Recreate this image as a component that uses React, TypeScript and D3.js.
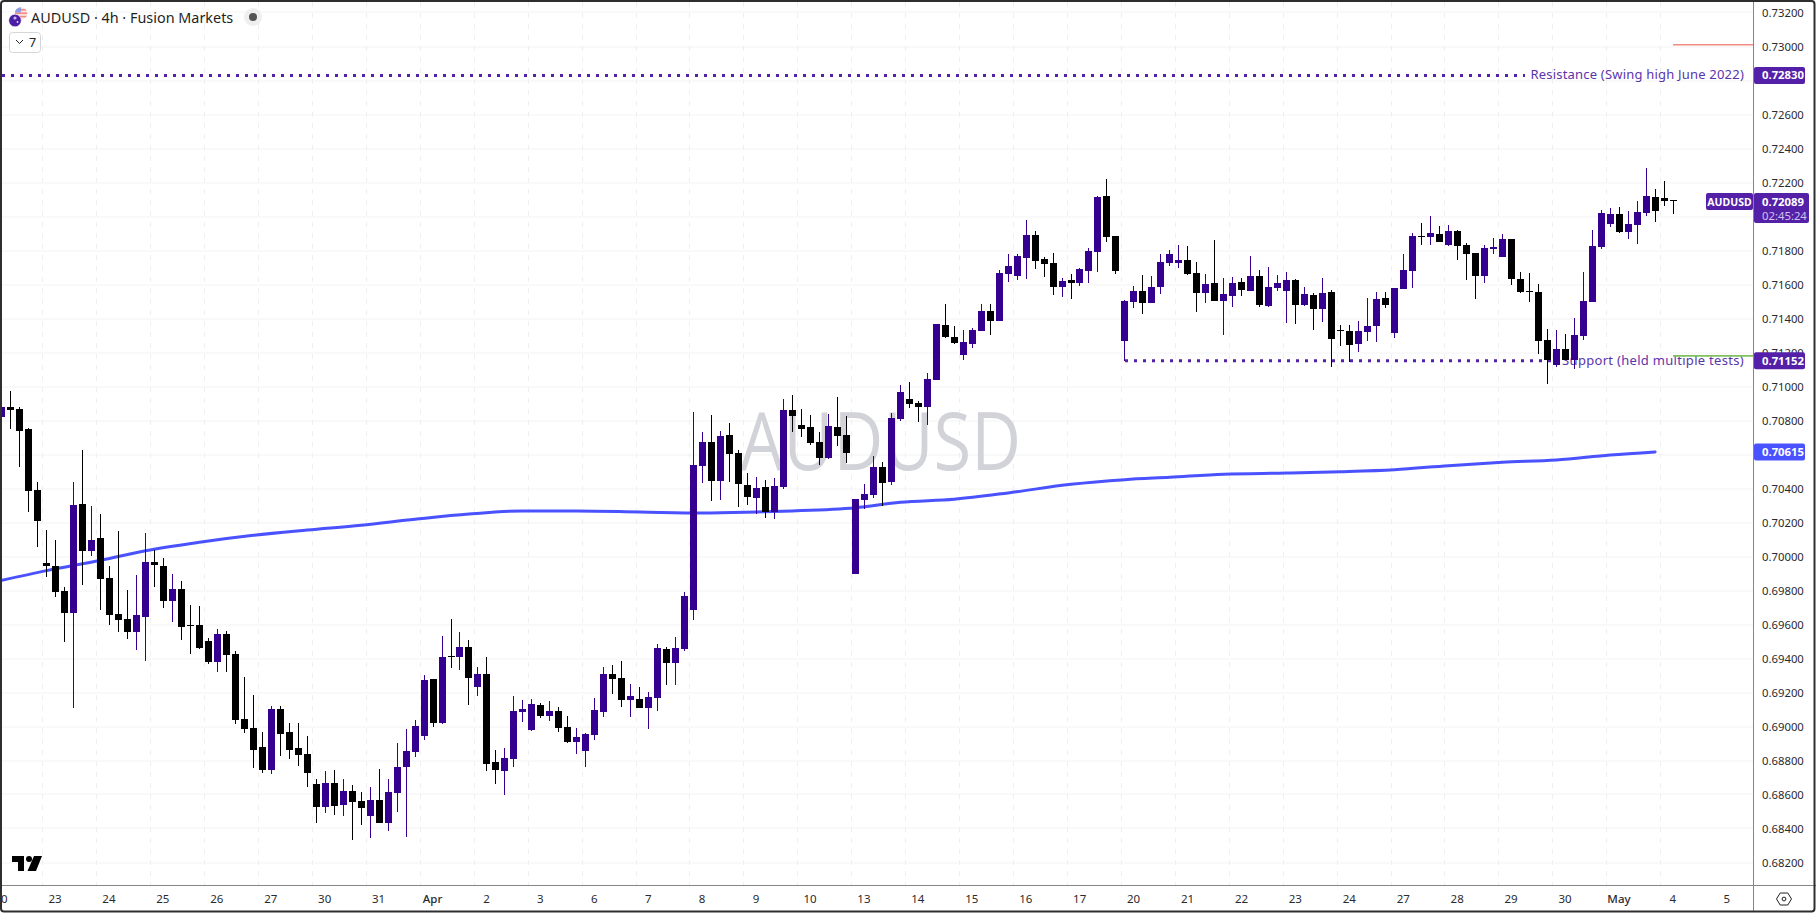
import React from "react";
import * as d3 from "d3";

const OPEN = [0.70820,0.70879,0.70867,0.70750,0.70391,0.69961,0.69944,0.69797,0.69667,0.70309,0.70032,0.70108,0.69873,0.69661,0.69632,0.69556,0.69644,0.69967,0.69944,0.69738,0.69808,0.69600,0.69597,0.69503,0.69379,0.69544,0.69426,0.69044,0.68991,0.68879,0.68744,0.69103,0.68967,0.68873,0.68838,0.68661,0.68526,0.68667,0.68538,0.68620,0.68561,0.68473,0.68567,0.68432,0.68609,0.68762,0.68850,0.68944,0.69279,0.69020,0.69413,0.69409,0.69467,0.69232,0.69309,0.68791,0.68738,0.68809,0.69085,0.68979,0.69126,0.69062,0.69091,0.68997,0.68909,0.68856,0.68950,0.69085,0.69309,0.69285,0.69156,0.69162,0.69109,0.69167,0.69456,0.69373,0.69456,0.69686,0.70532,0.70673,0.70444,0.70714,0.70609,0.70420,0.70344,0.70409,0.70261,0.70409,0.70861,0.70773,0.70761,0.70673,0.70579,0.70761,0.70714,0.69897,0.70332,0.70361,0.70526,0.70438,0.70809,0.70926,0.70903,0.70880,0.71039,0.71362,0.71292,0.71186,0.71250,0.71327,0.71444,0.71386,0.71662,0.71650,0.71756,0.71892,0.71750,0.71727,0.71586,0.71627,0.71609,0.71680,0.71792,0.72121,0.71886,0.71268,0.71497,0.71562,0.71492,0.71586,0.71727,0.71727,0.71745,0.71668,0.71550,0.71609,0.71503,0.71533,0.71615,0.71562,0.71650,0.71473,0.71579,0.71562,0.71626,0.71479,0.71538,0.71456,0.71556,0.71332,0.71326,0.71250,0.71320,0.71356,0.71520,0.71315,0.71573,0.71679,0.71885,0.71879,0.71897,0.71832,0.71915,0.71832,0.71785,0.71650,0.71809,0.71762,0.71868,0.71632,0.71560,0.71556,0.71273,0.71126,0.71220,0.71156,0.71297,0.71497,0.71820,0.71956,0.72015,0.71909,0.71950,0.72021,0.72115,0.72109,0.72097];
const HIGH = [0.70879,0.70973,0.70879,0.70756,0.70438,0.70156,0.70097,0.69820,0.70438,0.70626,0.70297,0.70250,0.69944,0.70150,0.69803,0.69891,0.70138,0.70038,0.69991,0.69897,0.69856,0.69714,0.69708,0.69520,0.69573,0.69561,0.69444,0.69291,0.69185,0.68967,0.69120,0.69120,0.69020,0.69020,0.68944,0.68691,0.68738,0.68744,0.68691,0.68656,0.68614,0.68644,0.68750,0.68691,0.68903,0.68985,0.69038,0.69303,0.69279,0.69532,0.69632,0.69556,0.69509,0.69350,0.69409,0.68862,0.68873,0.69179,0.69156,0.69162,0.69138,0.69150,0.69115,0.69062,0.68991,0.68962,0.69167,0.69350,0.69362,0.69385,0.69250,0.69232,0.69203,0.69485,0.69467,0.69526,0.69791,0.70850,0.70732,0.70832,0.70738,0.70785,0.70626,0.70491,0.70467,0.70450,0.70461,0.70926,0.70950,0.70867,0.70832,0.70732,0.70838,0.70938,0.70826,0.70338,0.70426,0.70591,0.70556,0.70844,0.71009,0.71026,0.70915,0.71080,0.71368,0.71486,0.71356,0.71333,0.71344,0.71486,0.71486,0.71686,0.71780,0.71780,0.71980,0.71915,0.71762,0.71786,0.71639,0.71662,0.71697,0.71815,0.72121,0.72221,0.71886,0.71509,0.71592,0.71656,0.71650,0.71780,0.71803,0.71833,0.71827,0.71733,0.71662,0.71862,0.71639,0.71645,0.71638,0.71768,0.71685,0.71703,0.71656,0.71673,0.71632,0.71585,0.71550,0.71638,0.71568,0.71362,0.71362,0.71385,0.71520,0.71556,0.71556,0.71579,0.71779,0.71903,0.71962,0.72003,0.71944,0.71950,0.71921,0.71844,0.71785,0.71832,0.71873,0.71897,0.71868,0.71673,0.71668,0.71603,0.71338,0.71332,0.71309,0.71403,0.71673,0.71921,0.72038,0.72050,0.72056,0.72032,0.72091,0.72285,0.72162,0.72209,0.72100];
const LOW = [0.70820,0.70750,0.70526,0.70261,0.70056,0.69879,0.69761,0.69497,0.69110,0.69832,0.70003,0.69685,0.69597,0.69556,0.69514,0.69450,0.69385,0.69820,0.69697,0.69614,0.69508,0.69426,0.69455,0.69367,0.69320,0.69320,0.69015,0.68962,0.68756,0.68726,0.68720,0.68826,0.68809,0.68767,0.68644,0.68432,0.68491,0.68479,0.68473,0.68332,0.68420,0.68344,0.68432,0.68385,0.68497,0.68350,0.68820,0.68920,0.68997,0.69014,0.69344,0.69332,0.69126,0.69179,0.68738,0.68661,0.68597,0.68762,0.69026,0.68973,0.69050,0.69032,0.68967,0.68903,0.68838,0.68762,0.68920,0.69056,0.69191,0.69115,0.69056,0.69109,0.68985,0.69091,0.69244,0.69244,0.69444,0.69627,0.70432,0.70326,0.70332,0.70438,0.70291,0.70303,0.70250,0.70226,0.70220,0.70397,0.70732,0.70703,0.70656,0.70538,0.70573,0.70650,0.70550,0.69897,0.70279,0.70344,0.70297,0.70420,0.70800,0.70873,0.70791,0.70773,0.71039,0.71286,0.71250,0.71156,0.71227,0.71327,0.71303,0.71386,0.71615,0.71627,0.71633,0.71692,0.71645,0.71539,0.71527,0.71515,0.71592,0.71609,0.71674,0.71850,0.71662,0.71150,0.71462,0.71427,0.71492,0.71545,0.71709,0.71697,0.71656,0.71439,0.71492,0.71503,0.71303,0.71468,0.71532,0.71562,0.71468,0.71468,0.71562,0.71373,0.71368,0.71473,0.71332,0.71379,0.71115,0.71238,0.71144,0.71203,0.71267,0.71262,0.71462,0.71285,0.71573,0.71579,0.71832,0.71832,0.71850,0.71826,0.71744,0.71626,0.71515,0.71609,0.71779,0.71762,0.71597,0.71550,0.71497,0.71191,0.71015,0.71115,0.71156,0.71103,0.71273,0.71497,0.71809,0.71938,0.71903,0.71868,0.71838,0.72003,0.71968,0.72062,0.72015];
const CLOSE = [0.70879,0.70861,0.70738,0.70385,0.70208,0.69944,0.69791,0.69667,0.70303,0.70032,0.70097,0.69867,0.69656,0.69626,0.69556,0.69656,0.69967,0.69950,0.69738,0.69808,0.69585,0.69595,0.69461,0.69379,0.69544,0.69420,0.69038,0.68985,0.68862,0.68744,0.69103,0.68956,0.68862,0.68832,0.68726,0.68526,0.68667,0.68532,0.68620,0.68556,0.68520,0.68567,0.68432,0.68614,0.68762,0.68856,0.69003,0.69273,0.69020,0.69409,0.69410,0.69467,0.69285,0.69309,0.68779,0.68744,0.68814,0.69091,0.69103,0.69132,0.69062,0.69091,0.68991,0.68909,0.68938,0.68956,0.69097,0.69309,0.69279,0.69156,0.69179,0.69109,0.69173,0.69462,0.69373,0.69462,0.69768,0.70538,0.70673,0.70444,0.70709,0.70603,0.70426,0.70350,0.70403,0.70261,0.70414,0.70861,0.70826,0.70750,0.70667,0.70579,0.70767,0.70708,0.70608,0.70338,0.70367,0.70526,0.70432,0.70814,0.70967,0.70897,0.70879,0.71044,0.71368,0.71292,0.71256,0.71262,0.71333,0.71444,0.71386,0.71668,0.71709,0.71768,0.71892,0.71739,0.71721,0.71586,0.71621,0.71609,0.71692,0.71797,0.72115,0.71880,0.71680,0.71503,0.71562,0.71492,0.71586,0.71733,0.71780,0.71745,0.71662,0.71550,0.71603,0.71503,0.71545,0.71609,0.71568,0.71650,0.71479,0.71585,0.71609,0.71626,0.71479,0.71544,0.71456,0.71550,0.71279,0.71329,0.71244,0.71326,0.71356,0.71515,0.71479,0.71579,0.71685,0.71885,0.71882,0.71903,0.71850,0.71915,0.71826,0.71779,0.71650,0.71815,0.71820,0.71868,0.71632,0.71556,0.71557,0.71267,0.71156,0.71220,0.71156,0.71303,0.71503,0.71826,0.72021,0.72015,0.71909,0.71956,0.72026,0.72121,0.72032,0.72091,0.72089];

const MA_INDEX = [0,5,11,16,22,28,34,40,46,52,58,64,71,78,84,88,95,100,106,112,119,125,130,136,143,149,155,161,167,173,179,184];
const MA_VALUE = [0.69860,0.69917,0.69978,0.70034,0.70084,0.70125,0.70156,0.70184,0.70219,0.70250,0.70268,0.70268,0.70262,0.70256,0.70262,0.70268,0.70287,0.70319,0.70337,0.70374,0.70425,0.70452,0.70466,0.70484,0.70491,0.70499,0.70511,0.70534,0.70554,0.70568,0.70597,0.70615];

const PRICE_TICKS = ["0.73200","0.73000","0.72800","0.72600","0.72400","0.72200","0.72000","0.71800","0.71600","0.71400","0.71200","0.71000","0.70800","0.70600","0.70400","0.70200","0.70000","0.69800","0.69600","0.69400","0.69200","0.69000","0.68800","0.68600","0.68400","0.68200"];
const TICKS_UNDER_TAGS = ["0.72800","0.72000","0.70600"];
const DAY_LABELS = ["20","23","24","25","26","27","30","31","Apr","2","3","6","7","8","9","10","13","14","15","16","17","20","21","22","23","24","27","28","29","30","May","4","5"];
const GRID_DAYS = d3.range(0, 31);

const RESISTANCE = 0.7283;
const SUPPORT = 0.71152;
const LAST = 0.72089;
const MA_LAST = 0.70615;
const RED_LEVEL = 0.7301;
const GREEN_LEVEL = 0.7118;

const W = 1816, H = 914, PANE_R = 1753, PANE_B = 885;
const UP = "#35008f", DOWN = "#000000", TAG = "#5420a8", NOTE = "#5b34ad", MA = "#4a52ff";
const FONT = "'Noto Sans', 'Open Sans', sans-serif";

const x = d3.scaleLinear().domain([0, 186]).range([1.235, 1672.54]);
const y = d3.scaleLinear().domain([0.73, 0.682]).range([46.5, 862.5]);
const dayX = d3.scaleLinear().domain([0, 1]).range([55, 108.93]);
const gridX = d3.scaleLinear().domain([0, 1]).range([42.3, 96.23]);

export default function App() {
  const maLine = d3.line<number>()
    .x((d) => x(MA_INDEX[d]) + 0.5)
    .y((d) => y(MA_VALUE[d]))
    .curve(d3.curveMonotoneX)(MA_INDEX.map((_, i) => i)) as string;

  return (
    <svg width={W} height={H} viewBox={`0 0 ${W} ${H}`} style={{ position: "absolute", left: 0, top: 0, background: "#fff", display: "block" }} fontFamily={FONT}>
      <defs>
        <clipPath id="pane"><rect x={2} y={2} width={PANE_R - 2} height={PANE_B - 2} /></clipPath>
        <clipPath id="flagA"><circle cx={21} cy={13.5} r={6.2} /></clipPath>
      </defs>

      {/* grid */}
      {PRICE_TICKS.map((t) => (
        <line key={t} x1={2} x2={PANE_R} y1={Math.round(y(+t))} y2={Math.round(y(+t))} stroke="#f3f3f4" strokeWidth={1} />
      ))}
      {GRID_DAYS.map((k) => (
        <line key={k} x1={Math.round(gridX(k)) + 0.5} x2={Math.round(gridX(k)) + 0.5} y1={2} y2={PANE_B} stroke="#efeff0" strokeWidth={1} strokeDasharray="5 6" />
      ))}

      {/* watermark */}
      <text x={740} y={470} fontSize={80} fill="#d2d3d8" fontFamily="'Open Sans', sans-serif" textLength={281} lengthAdjust="spacingAndGlyphs">AUDUSD</text>

      {/* notes */}
      <text x={1744} y={78.5} textAnchor="end" fontSize={13} fill={NOTE} letterSpacing={0.2}>Resistance (Swing high June 2022)</text>
      <text x={1744} y={365} textAnchor="end" fontSize={13} fill={NOTE} letterSpacing={0.3}>Support (held multiple tests)</text>

      <line x1={2} x2={1525} y1={y(RESISTANCE)} y2={y(RESISTANCE)} stroke={TAG} strokeWidth={3} strokeDasharray="3 6" />
      <line x1={1125} x2={1553} y1={y(SUPPORT)} y2={y(SUPPORT)} stroke={TAG} strokeWidth={3} strokeDasharray="3 6" />

      {/* moving average */}
      <path d={maLine} fill="none" stroke={MA} strokeWidth={3} strokeLinecap="round" clipPath="url(#pane)" />

      {/* candles */}
      <g clipPath="url(#pane)">
        {OPEN.map((o, i) => {
          const c = CLOSE[i];
          const col = c >= o ? UP : DOWN;
          const cx = Math.round(x(i));
          const yT = Math.round(y(Math.max(o, c)));
          const yB = Math.round(y(Math.min(o, c)));
          const yH = Math.round(y(HIGH[i]));
          const yL = Math.round(y(LOW[i]));
          return (
            <g key={i} fill={col}>
              <rect x={cx} y={yH} width={1} height={Math.max(1, yL - yH)} />
              <rect x={cx - 3} y={yT} width={7} height={Math.max(1, yB - yT)} />
            </g>
          );
        })}
      </g>

      {/* level stubs */}
      <line x1={1673} x2={PANE_R} y1={y(RED_LEVEL)} y2={y(RED_LEVEL)} stroke="#f28b82" strokeWidth={1.4} />
      <line x1={1673} x2={PANE_R} y1={y(GREEN_LEVEL)} y2={y(GREEN_LEVEL)} stroke="#7fc15e" strokeWidth={1.6} />

      {/* header */}
      <g>
        <circle cx={21} cy={13.5} r={6.2} fill="#fbe3e1" />
        <g clipPath="url(#flagA)">
          <rect x={14} y={9} width={15} height={1.6} fill="#f28b82" />
          <rect x={14} y={12.4} width={15} height={1.6} fill="#f28b82" />
          <rect x={14} y={15.8} width={15} height={1.6} fill="#f28b82" />
          <rect x={15} y={7} width={6} height={5.5} fill="#8c9ee8" />
        </g>
        <circle cx={15} cy={20.5} r={6.3} fill="#4a1fa6" stroke="#fff" strokeWidth={0.6} />
        <circle cx={15} cy={18} r={1.6} fill="#c7b8e8" />
        <circle cx={17.5} cy={22} r={0.9} fill="#e0d8f3" />
        <text x={31} y={22.5} fontSize={14.4} fill="#1f1f24">AUDUSD · 4h · Fusion Markets</text>
        <circle cx={253} cy={17} r={9} fill="#efeff0" />
        <circle cx={253} cy={17} r={4} fill="#555" />
        <rect x={9.5} y={32.5} width={31} height={20} rx={3} fill="#fff" stroke="#d6d6da" />
        <path d="M16 40 l3.5 3.5 l3.5 -3.5" fill="none" stroke="#222" strokeWidth={1} />
        <text x={32.5} y={47} textAnchor="middle" fontSize={12.5} fill="#222">7</text>
      </g>

      {/* TradingView mark */}
      <g fill="#000">
        <path d="M12 856 H24 V871 H18 V862 H12 Z" />
        <circle cx={29} cy={859} r={3} />
        <path d="M34 856 H42 L36 871 H27.5 Z" />
      </g>

      {/* axes */}
      <rect x={PANE_R} y={2} width={W - PANE_R - 2} height={PANE_B - 2} fill="#fff" />
      <rect x={2} y={PANE_B + 1} width={W - 3} height={H - PANE_B - 3} fill="#fff" />
      <g fontSize={11.3} fill="#2a2a2e">
        {PRICE_TICKS.filter((t) => !TICKS_UNDER_TAGS.includes(t)).map((t) => (
          <text key={t} x={1762} y={y(+t) + 4}>{t}</text>
        ))}
      </g>
      <g fontSize={11.5} fill="#2a2a2e" textAnchor="middle">
        {DAY_LABELS.map((t, i) => (
          <text key={i} x={dayX(i - 1)} y={902.5} fontWeight={t === "Apr" || t === "May" ? 500 : 400}>{t}</text>
        ))}
      </g>
      <line x1={PANE_R + 0.5} x2={PANE_R + 0.5} y1={2} y2={912} stroke="#858589" />
      <line x1={2} x2={W} y1={PANE_B + 0.5} y2={PANE_B + 0.5} stroke="#858589" />

      {/* price tags */}
      <g fontSize={11.3} fontWeight={700} fill="#fff">
        <rect x={PANE_R + 1} y={y(RESISTANCE) - 8.5} width={51} height={17} rx={2} fill={TAG} />
        <text x={1762} y={y(RESISTANCE) + 4}>{RESISTANCE.toFixed(5)}</text>
        <rect x={PANE_R + 1} y={y(SUPPORT) - 8.5} width={51} height={17} rx={2} fill={TAG} />
        <text x={1762} y={y(SUPPORT) + 4}>{SUPPORT.toFixed(5)}</text>
        <rect x={PANE_R + 1} y={y(MA_LAST) - 8.5} width={51} height={17} rx={2} fill={MA} />
        <text x={1762} y={y(MA_LAST) + 4}>{MA_LAST.toFixed(5)}</text>
        <rect x={1706} y={193} width={47} height={17} rx={2} fill={TAG} />
        <text x={1729.5} y={205.5} textAnchor="middle" fontSize={10.5}>AUDUSD</text>
        <rect x={PANE_R + 1} y={193} width={55} height={30} rx={2} fill={TAG} />
        <text x={1762} y={y(LAST) + 4.5}>{LAST.toFixed(5)}</text>
        <text x={1762} y={220} fontWeight={400} fill="#cfc3ea">02:45:24</text>
      </g>

      {/* settings icon */}
      <path d="M1776.5 899 l3.7 -6 h7.6 l3.7 6 l-3.7 6 h-7.6 z" fill="none" stroke="#222" strokeWidth={1} />
      <circle cx={1784} cy={899} r={1.9} fill="none" stroke="#222" strokeWidth={1} />

      {/* outer frame */}
      <rect x={1} y={1} width={W - 2.5} height={H - 3.5} rx={3} fill="none" stroke="#2e2e30" strokeWidth={2} />
    </svg>
  );
}
